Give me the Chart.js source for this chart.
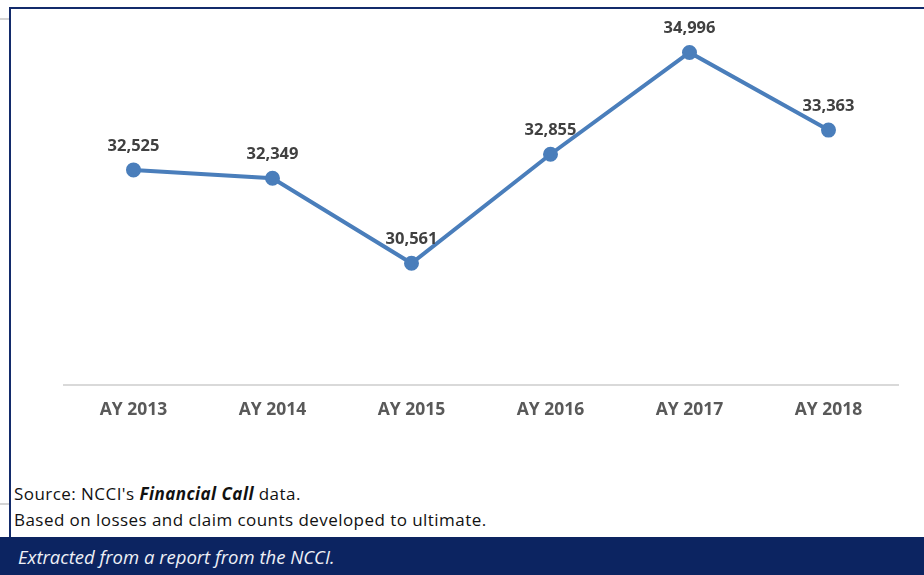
<!DOCTYPE html>
<html>
<head>
<meta charset="utf-8">
<script src="https://cdn.jsdelivr.net/npm/chart.js@4"></script>
<style>
  html, body { margin: 0; padding: 0; background: #fff; }
  body { width: 924px; height: 575px; position: relative; overflow: hidden; font-family: "Open Sans", sans-serif; }
  #wrap { position: absolute; left: 0; top: 0; width: 924px; height: 440px; }
  .frameTop { position: absolute; left: 9px; top: 7px; width: 915px; height: 2px; background: #132b6b; }
  .frameLeft { position: absolute; left: 9px; top: 7px; width: 2px; height: 530px; background: #132b6b; }
  .stub { position: absolute; left: 0; width: 9px; height: 2px; background: #d4d4d4; }
  .note { position: absolute; left: 14px; font-size: 17px; letter-spacing: 0.45px; color: #111; line-height: 20px; }
  .foot { position: absolute; left: 0; top: 537px; width: 924px; height: 38px; background: #0c2461; color: #eef0f6;
          font-family: "Open Sans", sans-serif; font-style: italic; font-size: 18.5px; line-height: 40px; padding-left: 18px; box-sizing: border-box; }
</style>
</head>
<body>
<div id="wrap"><canvas id="claimsChart"></canvas></div>
<div class="frameTop"></div>
<div class="frameLeft"></div>
<div class="stub" style="top:18px"></div>
<div class="stub" style="top:503px"></div>
<div class="note" style="top:484px">Source: NCCI's <b><i>Financial Call</i></b> data.</div>
<div class="note" style="top:510px">Based on losses and claim counts developed to ultimate.</div>
<div class="foot">Extracted from a report from the NCCI.</div>

<script>
const years = ['AY 2013', 'AY 2014', 'AY 2015', 'AY 2016', 'AY 2017', 'AY 2018'];
const claims = [32525, 32349, 30561, 32855, 34996, 33363];
const yMin = 28000;
const yMax = 35900;

// value labels above each point
const pointLabels = {
    id: 'pointLabels',
    afterDatasetsDraw(chart) {
        const ctx = chart.ctx;
        const meta = chart.getDatasetMeta(0);
        ctx.save();
        ctx.font = 'bold 16.5px "Open Sans", sans-serif';
        ctx.fillStyle = '#404040';
        ctx.textAlign = 'center';
        ctx.textBaseline = 'middle';
        meta.data.forEach((pt, i) => {
            ctx.fillText(claims[i].toLocaleString('en-US'), pt.x, pt.y - 24);
        });
        ctx.restore();
    }
};

document.addEventListener("DOMContentLoaded", () => {
    const ctx = document.getElementById('claimsChart').getContext('2d');
    new Chart(ctx, {
        type: 'line',
        data: {
            labels: years,
            datasets: [{
                data: claims,
                borderColor: '#4a7ebb',
                backgroundColor: '#4a7ebb',
                borderWidth: 4,
                pointRadius: 5.5,
                pointHoverRadius: 5.5,
                tension: 0
            }]
        },
        options: {
            responsive: true,
            maintainAspectRatio: false,
            animation: false,
            layout: { padding: { left: 64, right: 26, top: 0, bottom: 4 } },
            plugins: {
                legend: { display: false },
                tooltip: { enabled: false }
            },
            scales: {
                x: {
                    offset: true,
                    grid: { display: false, drawTicks: false },
                    border: { display: true, color: '#d9d9d9', width: 2 },
                    ticks: {
                        padding: 15,
                        color: '#595959',
                        font: { family: '"Open Sans", sans-serif', size: 17.5, weight: 'bold' }
                    }
                },
                y: {
                    display: false,
                    min: yMin,
                    max: yMax
                }
            }
        },
        plugins: [pointLabels]
    });
});
</script>
</body>
</html>
